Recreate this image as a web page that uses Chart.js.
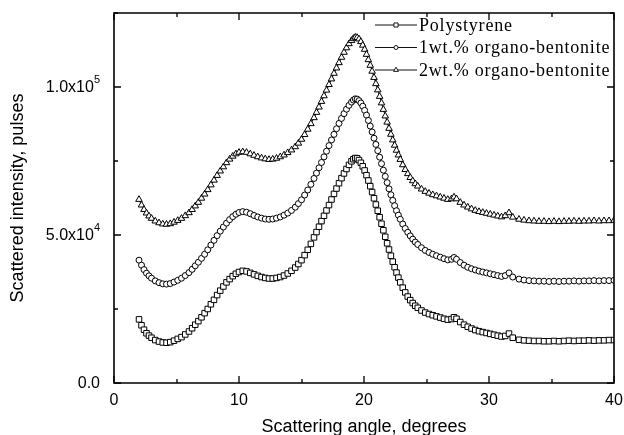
<!DOCTYPE html>
<html>
<head>
<meta charset="utf-8">
<script src="https://cdn.jsdelivr.net/npm/chart.js@4.4.1/dist/chart.umd.min.js"></script>
<style>
  html, body { margin: 0; padding: 0; background: #fff; }
  #wrap { width: 624px; height: 435px; position: relative; }
</style>
</head>
<body>
<div id="wrap"><canvas id="xrdChart"></canvas></div>
<script>
// scattering angle, degrees (shared by all three curves)
var angles = [
  2.0, 2.2, 2.4, 2.6, 2.8, 3.0, 3.3, 3.6, 3.9, 4.2,
  4.5, 4.8, 5.1, 5.4, 5.7, 6.0,
  6.25, 6.5, 6.75, 7.0, 7.25, 7.5, 7.75, 8.0, 8.25, 8.5, 8.75, 9.0, 9.25, 9.5, 9.75, 10.0,
  10.3, 10.6, 10.9, 11.2, 11.5, 11.8, 12.1, 12.4, 12.7, 13.0, 13.3, 13.6, 13.9, 14.2, 14.5,
  14.75, 15.0, 15.25, 15.5, 15.75, 16.0,
  16.2, 16.4, 16.6, 16.8, 17.0, 17.2, 17.4, 17.6, 17.8, 18.0, 18.2, 18.4, 18.6, 18.8, 19.0,
  19.15, 19.3, 19.45, 19.6, 19.75, 19.9, 20.05, 20.2, 20.35, 20.5, 20.65, 20.8, 20.95, 21.1, 21.25,
  21.4, 21.55, 21.7, 21.85, 22.0, 22.15, 22.3, 22.45, 22.6, 22.75, 22.9,
  23.1, 23.3, 23.5, 23.7, 23.9, 24.1, 24.3,
  24.6, 24.9, 25.2, 25.5, 25.8, 26.1, 26.4, 26.7, 27.0, 27.2, 27.4, 27.7,
  28.0, 28.3, 28.6, 28.9, 29.2, 29.5, 29.8, 30.1, 30.4, 30.7, 31.0, 31.3, 31.6, 31.9,
  32.4, 32.8, 33.2, 33.6, 34.0, 34.4, 34.8, 35.2, 35.6, 36.0, 36.4, 36.8, 37.2, 37.6, 38.0,
  38.4, 38.8, 39.2, 39.6, 40.0
];

var polystyrene = [
  21500, 19500, 18000, 16800, 16000, 15300, 14500, 14000, 13700, 13600,
  13800, 14300, 14900, 15500, 16400, 17400,
  18500, 19700, 20900, 22200, 23600, 25000, 26600, 28100, 29700, 31200, 32600, 34000, 35100, 36100, 36900, 37500,
  37900, 37700, 37200, 36700, 36200, 35800, 35500, 35300, 35300, 35500, 35800, 36300, 37000, 37900, 39000,
  40200, 41500, 43200, 45000, 47000, 49200,
  51000, 52800, 54700, 56500, 58300, 60100, 62000, 63900, 65700, 67500, 69200, 70800, 72300, 73700, 74900,
  75600, 76000, 75900, 75300, 74400, 73200, 71800, 70200, 68400, 66500, 64500, 62400, 60300, 58200, 56000,
  53800, 51600, 49400, 47200, 45100, 43000, 41000, 39100, 37300, 35600, 34000,
  32200, 30600, 29200, 28000, 27000, 26100, 25400,
  24500, 23800, 23300, 22900, 22500, 22100, 21700, 21400, 21600, 22200, 21700, 20600,
  19700, 19000, 18400, 17900, 17500, 17200, 16900, 16600, 16300, 16000, 15700, 15900, 16700, 15300,
  14600, 14400, 14300, 14200, 14200, 14100, 14100, 14200, 14100, 14200, 14300, 14200, 14300, 14300, 14400,
  14300, 14400, 14400, 14500, 14500
];

var bentonite1 = [
  41500, 39800, 38300, 37100, 36200, 35400, 34500, 33900, 33500, 33400,
  33600, 34100, 34700, 35400, 36300, 37300,
  38400, 39600, 40800, 42100, 43500, 45000, 46600, 48200, 49800, 51300, 52700, 54000, 55200, 56200, 57000, 57600,
  57900, 57700, 57200, 56600, 56100, 55700, 55400, 55300, 55400, 55700, 56100, 56700, 57400, 58300, 59400,
  60600, 61900, 63500, 65200, 67100, 69100,
  70900, 72700, 74500, 76400, 78300, 80200, 82100, 84000, 85900, 87700, 89400, 91000, 92500, 93800, 94900,
  95600, 96000, 95900, 95400, 94600, 93500, 92100, 90500, 88700, 86800, 84800, 82700, 80600, 78500, 76300,
  74100, 71900, 69800, 67700, 65600, 63600, 61700, 59900, 58200, 56700, 55300,
  53700, 52200, 50900, 49700, 48600, 47600, 46800,
  45700, 44800, 44100, 43500, 43000, 42500, 42000, 41600, 41800, 42400, 41800, 40700,
  39800, 39100, 38600, 38200, 37800, 37500, 37200, 36900, 36600, 36300, 36000, 36300, 37200, 35800,
  35100, 34800, 34600, 34500, 34400, 34400, 34300, 34400, 34300, 34400, 34400, 34500, 34400, 34500, 34500,
  34600, 34500, 34600, 34600, 34700
];

var bentonite2 = [
  62000, 60100, 58600, 57400, 56400, 55600, 54700, 54100, 53700, 53600,
  53800, 54300, 54900, 55600, 56500, 57500,
  58600, 59800, 61000, 62400, 63800, 65300, 66900, 68500, 70100, 71600, 73000, 74400, 75600, 76600, 77400, 77900,
  78100, 77900, 77400, 76900, 76400, 76000, 75700, 75500, 75600, 75900, 76400, 77000, 77800, 78700, 79800,
  81000, 82300, 83900, 85700, 87600, 89600,
  91400, 93200, 95100, 97000, 98900, 100800, 102700, 104600, 106400, 108200, 110000, 111700, 113200, 114600, 115700,
  116400, 116800, 116700, 116200, 115300, 114100, 112700, 111000, 109200, 107300, 105300, 103200, 101100, 99000, 96800,
  94600, 92400, 90200, 88100, 86000, 84000, 82100, 80300, 78600, 77000, 75500,
  73700, 72100, 70700, 69400, 68300, 67300, 66500,
  65500, 64700, 64100, 63600, 63200, 62800, 62400, 62000, 62200, 62800, 62200, 61000,
  60100, 59400, 58800, 58300, 57900, 57600, 57300, 57000, 56700, 56400, 56100, 56500, 57500, 56000,
  55300, 55000, 54800, 54700, 54600, 54600, 54500, 54600, 54500, 54600, 54600, 54700, 54600, 54700, 54700,
  54800, 54700, 54800, 54800, 54900
];

var seriesNames = ["Polystyrene", "1wt.% organo-bentonite", "2wt.% organo-bentonite"];
var xTicks = [0, 10, 20, 30, 40];
var yTicks = [0, 50000, 100000];
// mantissa part and power of ten, drawn as a superscript
var yTickBase = ["0.0", "5.0x10", "1.0x10"];
var yTickExp = ["", "4", "5"];

function toPoints(ys) {
  return angles.map(function(a, i) { return {x: a, y: ys[i]}; });
}

var styles = [
  {pointStyle: 'rect', radius: 3.9},
  {pointStyle: 'circle', radius: 3.0},
  {pointStyle: 'triangle', radius: 3.8}
];

function makeSet(name, ys, st) {
  return {
    label: name,
    data: toPoints(ys),
    borderColor: '#111',
    borderWidth: 1,
    pointStyle: st.pointStyle,
    pointRadius: st.radius,
    pointBorderWidth: 1,
    pointBorderColor: '#000',
    pointBackgroundColor: '#fff',
    tension: 0,
    fill: false
  };
}

var sans = '"Liberation Sans", Arial, sans-serif';

// frame, inward ticks, y labels with exponents and the legend
var framePlugin = {
  id: 'frame',
  afterDraw: function(chart) {
    var ctx = chart.ctx;
    var a = chart.chartArea;
    var xs = chart.scales.x, ys = chart.scales.y;
    var L = Math.round(a.left), R = Math.round(a.right), T = Math.round(a.top), B = Math.round(a.bottom);
    ctx.save();
    ctx.strokeStyle = '#000';
    ctx.lineWidth = 1.6;
    ctx.lineCap = 'square';
    ctx.beginPath();
    ctx.moveTo(L, T); ctx.lineTo(R, T); ctx.lineTo(R, B); ctx.lineTo(L, B); ctx.closePath();
    ctx.stroke();

    ctx.lineWidth = 1.3;
    ctx.lineCap = 'butt';
    ctx.beginPath();
    for (var v = 0; v <= 40; v += 5) {
      var px = Math.round(xs.getPixelForValue(v));
      var len = (v % 10 === 0) ? 7 : 4;
      ctx.moveTo(px, B); ctx.lineTo(px, B - len);
      ctx.moveTo(px, T); ctx.lineTo(px, T + len);
    }
    for (var w = 0; w <= 125000; w += 25000) {
      var py = Math.round(ys.getPixelForValue(w));
      var l2 = (w % 50000 === 0) ? 7 : 4;
      ctx.moveTo(L, py); ctx.lineTo(L + l2, py);
      ctx.moveTo(R, py); ctx.lineTo(R - l2, py);
    }
    ctx.stroke();

    // y tick labels
    ctx.fillStyle = '#000';
    ctx.textBaseline = 'middle';
    for (var k = 0; k < yTicks.length; k++) {
      var ty = ys.getPixelForValue(yTicks[k]);
      var right = L - 14;
      ctx.font = '11px ' + sans;
      var ew = yTickExp[k] ? ctx.measureText(yTickExp[k]).width : 0;
      if (ew) {
        ctx.textAlign = 'left';
        ctx.fillText(yTickExp[k], right - ew, ty - 7);
      }
      ctx.font = '16px ' + sans;
      ctx.textAlign = 'right';
      ctx.fillText(yTickBase[k], right - ew, ty + 1);
    }

    // legend
    ctx.font = '18px "Liberation Serif", "Times New Roman", serif';
    ctx.letterSpacing = '0.8px';
    ctx.textAlign = 'left';
    for (var i = 0; i < seriesNames.length; i++) {
      var ly = 25 + i * 22.5;
      ctx.beginPath();
      ctx.strokeStyle = '#111';
      ctx.lineWidth = 1;
      ctx.moveTo(375, ly); ctx.lineTo(417, ly);
      ctx.stroke();
      ctx.fillStyle = '#fff';
      ctx.strokeStyle = '#000';
      ctx.lineWidth = 0.9;
      Chart.helpers.drawPoint(ctx, {pointStyle: styles[i].pointStyle, radius: styles[i].radius - 1, borderWidth: 0.9}, 396, ly);
      ctx.fillStyle = '#000';
      ctx.fillText(seriesNames[i], 419, ly + 1);
    }
    ctx.restore();
  }
};

new Chart(document.getElementById('xrdChart'), {
  type: 'line',
  data: {
    datasets: [
      makeSet(seriesNames[0], polystyrene, styles[0]),
      makeSet(seriesNames[1], bentonite1, styles[1]),
      makeSet(seriesNames[2], bentonite2, styles[2])
    ]
  },
  options: {
    responsive: true,
    maintainAspectRatio: false,
    animation: false,
    devicePixelRatio: 1,
    layout: { padding: { top: 13, right: 10, left: 0, bottom: 0 } },
    plugins: { legend: { display: false }, tooltip: { enabled: false } },
    scales: {
      x: {
        type: 'linear',
        min: 0, max: 40,
        grid: { display: false, drawTicks: false },
        border: { display: false },
        afterBuildTicks: function(scale) { scale.ticks = xTicks.map(function(v) { return {value: v}; }); },
        afterFit: function(scale) {
          scale.height = 52;
          scale.paddingLeft = 0; scale.paddingRight = 0;
        },
        ticks: { color: '#000', padding: 8, maxRotation: 0, font: { family: sans, size: 16 } },
        title: {
          display: true, text: 'Scattering angle, degrees', color: '#000',
          font: { family: sans, size: 18, lineHeight: 1 }, padding: { top: 0, bottom: -1 }
        }
      },
      y: {
        min: 0, max: 125000,
        grid: { display: false, drawTicks: false },
        border: { display: false },
        afterBuildTicks: function(scale) { scale.ticks = yTicks.map(function(v) { return {value: v}; }); },
        afterFit: function(scale) {
          scale.width = 114;
          scale.paddingTop = 0; scale.paddingBottom = 0;
        },
        ticks: { display: false },
        title: {
          display: true, text: 'Scattered intensity, pulses', color: '#000',
          font: { family: sans, size: 18, lineHeight: 1.2 }, padding: { top: 7, bottom: 0 }
        }
      }
    }
  },
  plugins: [framePlugin]
});
</script>
</body>
</html>
